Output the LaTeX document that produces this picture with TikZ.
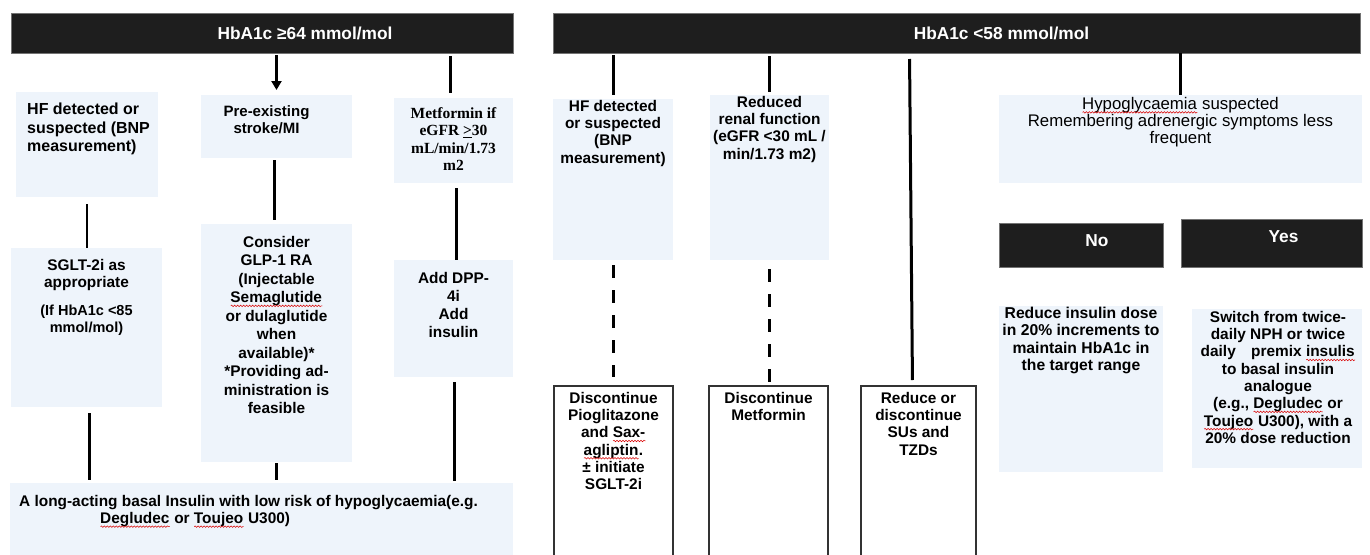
\documentclass[tikz,border=0pt]{standalone}
\usepackage{fontspec}
\setmainfont{Liberation Sans}
\newfontfamily\metserif{Liberation Serif}
\usetikzlibrary{arrows.meta,decorations.pathmorphing}
\definecolor{boxblue}{HTML}{EEF4FB}
\definecolor{hdrblack}{HTML}{1E1E1E}
\newsavebox\spellbox
\newcommand\spell[1]{\sbox\spellbox{#1}\rlap{\usebox\spellbox}\tikz[baseline=0pt]{\draw[red!85!black, line width=0.5pt, decorate, decoration={snake, segment length=3pt, amplitude=0.8pt}] (0pt,-3pt) -- (\wd\spellbox,-3pt);}}
\tikzset{
  bluebox/.style={fill=boxblue, anchor=north west, inner sep=0pt, outer sep=0pt},
  whitebox/.style={draw=black!80, line width=1.2pt, fill=white, anchor=north west, inner sep=0pt, outer sep=0pt},
  darkbox/.style={fill=hdrblack, draw=black!55, line width=0.8pt, anchor=north west, inner sep=0pt, outer sep=0pt},
  boxtext/.style={anchor=north, align=center, inner sep=0pt, font=\bfseries\fontsize{15.4}{17.3}\selectfont},
  hdrtext/.style={text=white, inner sep=0pt, font=\bfseries\fontsize{17.3}{20}\selectfont},
  link/.style={line width=3pt},
  thinlink/.style={line width=1.2pt},
  dashlink/.style={line width=3pt, dash pattern=on 13pt off 12pt},
}
\begin{document}
\begin{tikzpicture}[x=1pt,y=-1pt]
	\useasboundingbox[fill=white] (0,0) rectangle (1370,554);
	\clip (0,0) rectangle (1370,554);
	\node[darkbox, minimum width=502, minimum height=40, label={[hdrtext, xshift=43]center:{HbA1c ≥64 mmol/mol}}] (hdrL) at (11,13) {};
	\node[darkbox, minimum width=807, minimum height=40, label={[hdrtext, xshift=45]center:{HbA1c <58 mmol/mol}}] (hdrR) at (553,13) {};
	\node[bluebox, minimum width=142, minimum height=105, label={[boxtext, anchor=north west, align=left, xshift=11, yshift=-11, font=\bfseries\fontsize{16}{18.5}\selectfont]north west:{HF detected or\\suspected (BNP\\measurement)}}] (hf) at (16,92) {};
	\node[bluebox, minimum width=151, minimum height=63, label={[boxtext, yshift=-10, xshift=-10, font=\bfseries\fontsize{15}{17}\selectfont]north:{Pre-existing\\stroke/MI}}] (pre) at (201,95) {};
	\node[bluebox, minimum width=119, minimum height=85, label={[boxtext, yshift=-9, font=\metserif\bfseries\fontsize{15.5}{17.5}\selectfont]north:{Metformin if\\eGFR \underline{>}30\\mL/min/1.73\\m2}}] (met) at (394,98) {};
	\node[bluebox, minimum width=151, minimum height=159, label={[boxtext, yshift=-11, font=\bfseries\fontsize{15.4}{17}\selectfont]north:{SGLT-2i as\\appropriate\\[11pt]{\fontsize{14.5}{17}\selectfont(If HbA1c <85}\\{\fontsize{14.5}{17}\selectfont mmol/mol)}}}] (sglt) at (11,248) {};
	\node[bluebox, minimum width=151, minimum height=238, label={[boxtext, yshift=-12, font=\bfseries\fontsize{15.4}{18.5}\selectfont]north:{Consider\\GLP-1 RA\\(Injectable\\\spell{Semaglutide}\\or dulaglutide\\when\\available)*\\*Providing ad-\\ministration is\\feasible}}] (cons) at (201,224) {};
	\node[bluebox, minimum width=119, minimum height=117, label={[boxtext, yshift=-12, font=\bfseries\fontsize{15.4}{18}\selectfont]north:{Add DPP-\\4i\\Add\\insulin}}] (dpp) at (394,260) {};
	\node[bluebox, minimum width=503, minimum height=80, label={[boxtext, anchor=north west, align=left, xshift=9, yshift=-12]north west:{A long-acting basal Insulin with low risk of hypoglycaemia(e.g.\\\hspace*{81pt}\spell{Degludec} or \spell{Toujeo} U300)}}] (base) at (10,483) {};
	\node[bluebox, minimum width=120, minimum height=161, label={[boxtext, yshift=-1]north:{HF detected\\or suspected\\(BNP\\measurement)}}] (hf2) at (553,99) {};
	\node[bluebox, minimum width=119, minimum height=165, label={[boxtext, yshift=-1]north:{Reduced\\renal function\\(eGFR <30 mL /\\min/1.73 m2)}}] (renal) at (710,95) {};
	\node[whitebox, minimum width=119, minimum height=180, label={[boxtext, yshift=-6]north:{Discontinue\\Pioglitazone\\and \spell{Sax-}\\\spell{agliptin}.\\± initiate\\SGLT-2i}}] (disc1) at (554,386) {};
	\node[whitebox, minimum width=119, minimum height=180, label={[boxtext, yshift=-6]north:{Discontinue\\Metformin}}] (disc2) at (709,386) {};
	\node[whitebox, minimum width=115, minimum height=180, label={[boxtext, yshift=-6]north:{Reduce or\\discontinue\\SUs and\\TZDs}}] (sus) at (861,386) {};
	\node[bluebox, minimum width=363, minimum height=88, label={[boxtext, yshift=-2, font=\fontsize{16.8}{17}\selectfont]north:{\spell{Hypoglycaemia} suspected\\Remembering adrenergic symptoms less\\frequent}}] (hypo) at (999,95) {};
	\node[darkbox, minimum width=164, minimum height=44, label={[hdrtext, xshift=16, yshift=4]center:No}] (no) at (999,223) {};
	\node[darkbox, minimum width=181, minimum height=48, label={[hdrtext, xshift=12, yshift=6]center:Yes}] (yes) at (1181,219) {};
	\node[bluebox, minimum width=164, minimum height=166, label={[boxtext, yshift=-1, font=\bfseries\fontsize{15.7}{17.3}\selectfont]north:{Reduce insulin dose\\in 20\% increments to\\maintain HbA1c in\\the target range}}] (red) at (999,306) {};
	\node[bluebox, minimum width=170, minimum height=159, label={[boxtext, yshift=-2, xshift=1]north:{Switch from twice-\\daily NPH or twice\\daily\quad premix \spell{insulis}\\to basal insulin\\analogue\\(e.g., \spell{Degludec} or\\\spell{Toujeo} U300), with a\\20\% dose reduction}}] (sw) at (1192,309) {};
	\draw[line width=2.5pt, -{Triangle[length=9pt, width=10pt]}, shorten <=2pt, shorten >=5pt] (hdrL.south -| pre.north) -- (pre.north);
	\draw[link, shorten <=3pt, shorten >=5pt] ([xshift=-3]hdrL.south -| met.north) -- ([xshift=-3]met.north);
	\draw[thinlink, shorten <=7pt] (hf.south) -- (hf.south |- sglt.north);
	\draw[link, shorten <=6pt, shorten >=3pt] ([xshift=3]sglt.south) -- ([xshift=3]sglt.south |- base.north);
	\draw[link, shorten <=2pt, shorten >=4pt] ([xshift=-2]pre.south) -- ([xshift=-2]pre.south |- cons.north);
	\draw[link, shorten <=1pt, shorten >=3pt] (cons.south) -- (cons.south |- base.north);
	\draw[link, shorten <=5pt] ([xshift=3]met.south) -- ([xshift=3]met.south |- dpp.north);
	\draw[link, shorten <=5pt, shorten >=2pt] ([xshift=1]dpp.south) -- ([xshift=1]dpp.south |- base.north);
	\draw[link, shorten <=2pt, shorten >=4pt] (hdrR.south -| hf2.north) -- (hf2.north);
	\draw[link, shorten <=3pt, shorten >=3pt] (hdrR.south -| renal.north) -- (renal.north);
	\draw[link, shorten <=6pt, shorten >=6pt] ([xshift=-9]hdrR.south -| sus.north) -- ([xshift=-6]sus.north);
	\draw[link] (hdrR.south -| hypo.north) -- (hypo.north);
	\draw[dashlink, shorten <=5pt, shorten >=9pt] (hf2.south) -- (hf2.south |- disc1.north);
	\draw[dashlink, shorten <=9pt, shorten >=4pt] (renal.south) -- (renal.south |- disc2.north);
\end{tikzpicture}
\end{document}
